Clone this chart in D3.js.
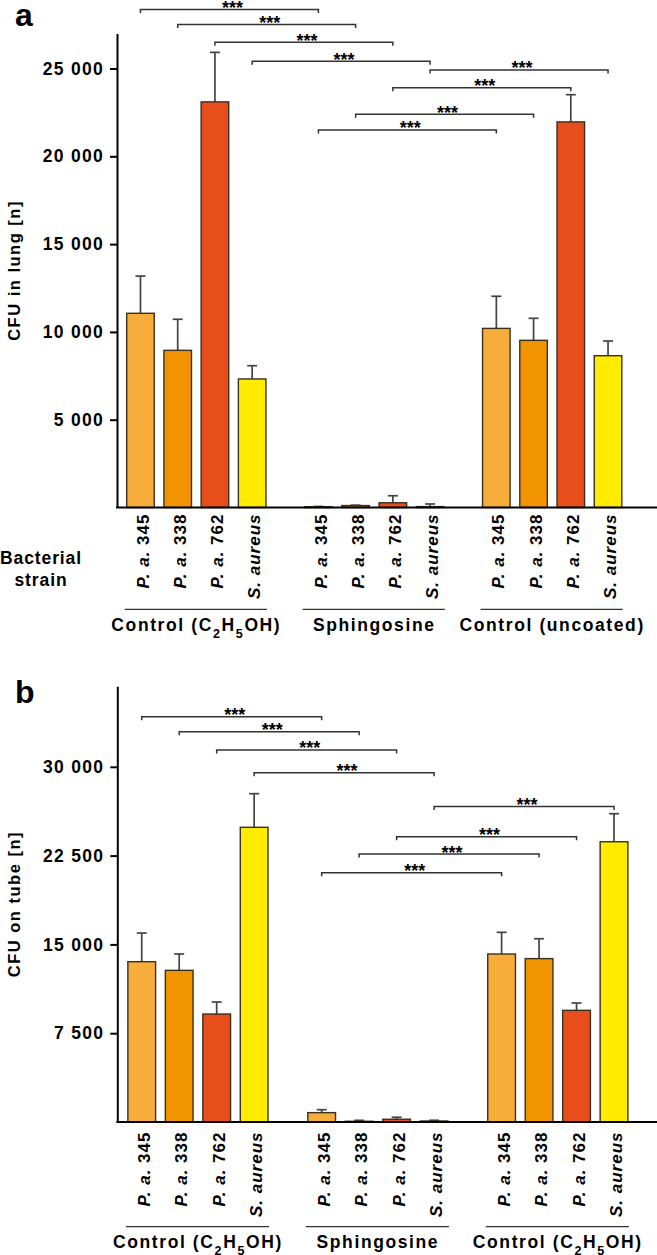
<!DOCTYPE html>
<html>
<head>
<meta charset="utf-8">
<script src="https://cdn.jsdelivr.net/npm/d3@7"></script>
<style>
  html, body { margin: 0; padding: 0; background: #fff; }
  svg { display: block; }
  text { font-family: "Liberation Sans", Arial, Helvetica, sans-serif; fill: #000; }
</style>
</head>
<body>
<svg id="chart" width="657" height="1255"></svg>
<script>
// ---------- DATA ----------
const strains = ["P. a. 345", "P. a. 338", "P. a. 762", "S. aureus"];
const strainColors = ["#F7AD3C", "#F29400", "#E84E1B", "#FFEC00"];

const groupsA = ["Control (C_2H_5OH)", "Sphingosine", "Control (uncoated)"];
const groupsB = ["Control (C_2H_5OH)", "Sphingosine", "Control (C_2H_5OH)"];

// panel a: CFU in lung [n]
const valuesA = [
  [11060, 8950, 23100, 7320],
  [40, 110, 270, 50],
  [10200, 9520, 21960, 8645]
];
const errorsA = [
  [2120, 1770, 2820, 755],
  [20, 20, 400, 150],
  [1830, 1255, 1550, 835]
];
const ticksA = [5000, 10000, 15000, 20000, 25000];
// significance brackets: [group1, strain1, group2, strain2, height (data units), label]
const bracketsA = [
  [0, 0, 1, 0, 28360, "***"],
  [0, 1, 1, 1, 27500, "***"],
  [0, 2, 1, 2, 26490, "***"],
  [0, 3, 1, 3, 25410, "***"],
  [1, 3, 2, 3, 24920, "***"],
  [1, 2, 2, 2, 23910, "***"],
  [1, 1, 2, 1, 22390, "***"],
  [1, 0, 2, 0, 21500, "***"]
];

// panel b: CFU on tube [n]
const valuesB = [
  [13540, 12810, 9120, 24890],
  [790, 60, 230, 85],
  [14190, 13800, 9430, 23670]
];
const errorsB = [
  [2420, 1380, 1015, 2840],
  [250, 80, 170, 60],
  [1830, 1680, 620, 2370]
];
const ticksB = [7500, 15000, 22500, 30000];
const bracketsB = [
  [0, 0, 1, 0, 34230, "***"],
  [0, 1, 1, 1, 32965, "***"],
  [0, 2, 1, 2, 31420, "***"],
  [0, 3, 1, 3, 29500, "***"],
  [1, 3, 2, 3, 26650, "***"],
  [1, 2, 2, 2, 24100, "***"],
  [1, 1, 2, 1, 22635, "***"],
  [1, 0, 2, 0, 21055, "***"]
];

// ---------- DRAW ----------
const svg = d3.select("#chart");
const fmt = d3.formatLocale({decimal: ".", thousands: " ", grouping: [3], currency: ["", ""]}).format(",");

function subText(sel, str) {
  // "_x" => subscript x
  const parts = str.split(/(_\d)/);
  parts.forEach(p => {
    if (!p) return;
    if (p.startsWith("_")) {
      sel.append("tspan").attr("baseline-shift", "sub").attr("font-size", "0.72em").text(p.slice(1));
    } else {
      sel.append("tspan").text(p);
    }
  });
}

function drawPanel(cfg) {
  const g = svg.append("g");
  const y = d3.scaleLinear().domain([0, cfg.yMax]).range([cfg.yBase, cfg.yTop]);
  const x0 = d3.scaleBand().domain(d3.range(cfg.groups.length)).range(cfg.xRange).paddingInner(cfg.groupPad);
  const x1 = d3.scaleBand().domain(d3.range(strains.length)).range([0, x0.bandwidth()])
    .paddingInner(0.26).paddingOuter(0.13);
  const cx = (gi, si) => x0(gi) + x1(si) + x1.bandwidth() / 2;

  // bars
  cfg.values.forEach((vals, gi) => {
    vals.forEach((v, si) => {
      const e = cfg.errors[gi][si];
      const c = cx(gi, si);
      // error bar (upper only)
      g.append("line").attr("x1", c).attr("x2", c).attr("y1", y(v)).attr("y2", y(v + e))
        .attr("stroke", "#444").attr("stroke-width", 1.7);
      g.append("line").attr("x1", c - 5).attr("x2", c + 5).attr("y1", y(v + e)).attr("y2", y(v + e))
        .attr("stroke", "#444").attr("stroke-width", 1.7);
      g.append("rect")
        .attr("x", x0(gi) + x1(si)).attr("width", x1.bandwidth())
        .attr("y", y(v)).attr("height", y(0) - y(v))
        .attr("fill", strainColors[si]).attr("stroke", "#3a3020").attr("stroke-width", 1.4);
    });
  });

  // y axis
  const axis = d3.axisLeft(y).tickValues(cfg.ticks).tickFormat(fmt).tickSize(7).tickPadding(6).tickSizeOuter(0);
  const ag = g.append("g").attr("transform", `translate(${cfg.axisX},0)`).call(axis);
  ag.select(".domain").attr("stroke", "#000").attr("stroke-width", 2);
  ag.selectAll(".tick line").attr("stroke", "#000").attr("stroke-width", 2);
  ag.selectAll(".tick text").attr("font-size", 17.5).attr("font-weight", "bold")
    .attr("letter-spacing", "1.3px").attr("font-family", "Liberation Sans, Arial, sans-serif").attr("fill", "#000");

  // x baseline
  g.append("line").attr("x1", cfg.axisX - 1).attr("x2", 657).attr("y1", y(0)).attr("y2", y(0))
    .attr("stroke", "#000").attr("stroke-width", 2);

  // y title
  g.append("text")
    .attr("transform", `translate(20,${(cfg.yBase + cfg.yTop) / 2}) rotate(-90)`)
    .attr("text-anchor", "middle").attr("font-size", 16.5).attr("font-weight", "bold")
    .attr("letter-spacing", "1.5px")
    .text(cfg.yTitle);

  // panel letter
  g.append("text").attr("x", 15).attr("y", cfg.letterY).attr("font-size", 32).attr("font-weight", "bold")
    .text(cfg.letter);

  // strain labels
  cfg.groups.forEach((grp, gi) => {
    strains.forEach((s, si) => {
      const m = s.match(/^(.*?)(\d*)$/);
      const t = g.append("text")
        .attr("transform", `translate(${cx(gi, si) + 2},${y(0) + cfg.labelGap}) rotate(-90)`)
        .attr("text-anchor", "end").attr("dy", "0.36em").attr("font-size", 17)
        .attr("font-weight", "bold").attr("letter-spacing", "1px");
      t.append("tspan").attr("font-style", "italic").text(m[1]);
      if (m[2]) t.append("tspan").text(m[2]);
    });
    // underline
    g.append("line")
      .attr("x1", x0(gi) + x1(0) - 2).attr("x2", x0(gi) + x1(3) + x1.bandwidth() + 1)
      .attr("y1", cfg.underlineY).attr("y2", cfg.underlineY)
      .attr("stroke", "#333").attr("stroke-width", 1.3);
    const gt = g.append("text")
      .attr("x", x0(gi) + x0.bandwidth() / 2).attr("y", cfg.groupLabelY)
      .attr("text-anchor", "middle").attr("font-size", 17.5).attr("font-weight", "bold")
      .attr("letter-spacing", "1.6px");
    subText(gt, grp);
  });

  // significance brackets
  cfg.brackets.forEach(b => {
    const xa = cx(b[0], b[1]), xb = cx(b[2], b[3]), yy = y(b[4]);
    g.append("path")
      .attr("d", `M${xa},${yy + 3.5}V${yy}H${xb}V${yy + 3.5}`)
      .attr("fill", "none").attr("stroke", "#333").attr("stroke-width", 1.5);
    g.append("text").attr("x", (xa + xb) / 2 + 3).attr("y", yy + 4.5)
      .attr("text-anchor", "middle").attr("font-size", 18).attr("font-weight", "bold").attr("fill", "#222")
      .text(b[5]);
  });

  if (cfg.extraLabel) {
    const t = g.append("text").attr("text-anchor", "middle").attr("font-size", 17.5)
      .attr("font-weight", "bold").attr("letter-spacing", "0.9px");
    cfg.extraLabel.forEach((line, i) => {
      t.append("tspan").attr("x", 41).attr("y", cfg.extraLabelY + i * 22).text(line);
    });
  }
}

drawPanel({
  letter: "a", letterY: 26,
  groups: groupsA, values: valuesA, errors: errorsA, ticks: ticksA, brackets: bracketsA,
  yMax: 27000, yBase: 507.5, yTop: 33.4, axisX: 117,
  xRange: [121.85, 626.65], groupPad: 0.163,
  yTitle: "CFU in lung [n]",
  labelGap: 6, underlineY: 609.3, groupLabelY: 631,
  extraLabel: ["Bacterial", "strain"], extraLabelY: 564
});

drawPanel({
  letter: "b", letterY: 703,
  groups: groupsB, values: valuesB, errors: errorsB, ticks: ticksB, brackets: bracketsB,
  yMax: 36800, yBase: 1122, yTop: 686.3, axisX: 117.3,
  xRange: [123, 632.75], groupPad: 0.167,
  yTitle: "CFU on tube [n]",
  labelGap: 9.5, underlineY: 1226.7, groupLabelY: 1248
});
</script>
</body>
</html>
